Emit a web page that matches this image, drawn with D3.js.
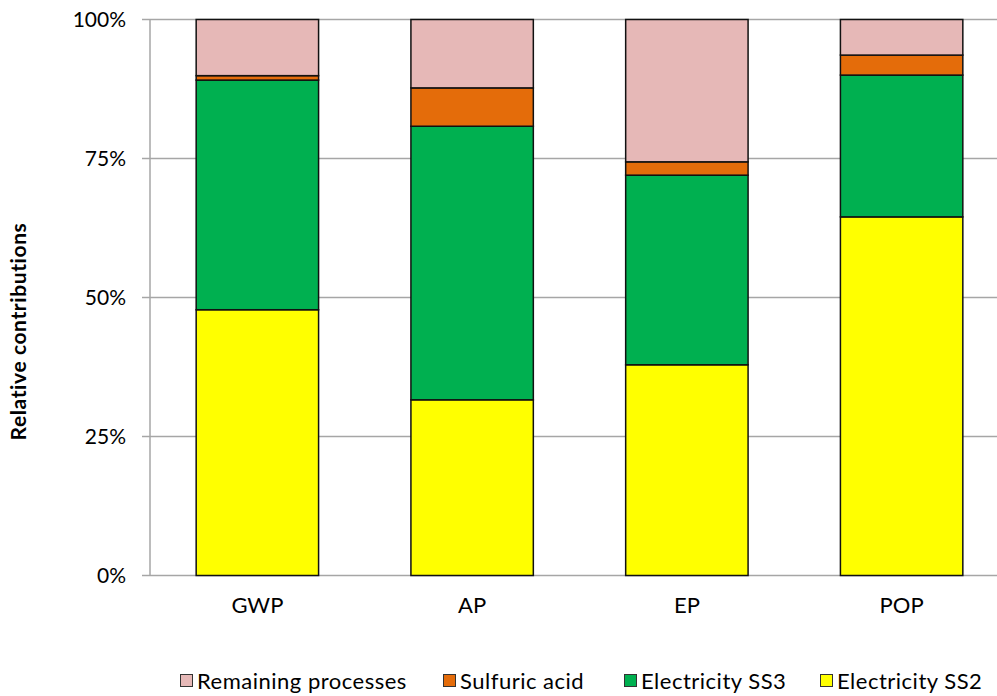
<!DOCTYPE html>
<html>
<head>
<meta charset="utf-8">
<script src="https://cdn.jsdelivr.net/npm/d3@7"></script>
<style>
  html, body { margin: 0; padding: 0; background: #fff; }
  svg { display: block; }
  text { font-family: Lato, "Open Sans", sans-serif; fill: #000; }
</style>
</head>
<body>
<svg id="chart" width="997" height="696"></svg>
<script>
// Impact categories and the share of each process (percent)
const categories = ["GWP", "AP", "EP", "POP"];
const electricitySS2 = [47.8, 31.6, 37.9, 64.5];
const electricitySS3 = [41.3, 49.2, 34.1, 25.5];
const sulfuricAcid   = [0.8, 6.9, 2.4, 3.6];
const remaining      = [10.1, 12.3, 25.6, 6.4];
const yTicks = [0, 25, 50, 75, 100];

// Stack order: bottom to top
const seriesNames = ["Electricity SS2", "Electricity SS3", "Sulfuric acid", "Remaining processes"];
const seriesValues = [electricitySS2, electricitySS3, sulfuricAcid, remaining];
const colors = ["#ffff00", "#00b050", "#e46c0a", "#e6b8b7"];

const rows = categories.map((c, i) => {
  const r = { category: c };
  seriesNames.forEach((s, k) => { r[s] = seriesValues[k][i]; });
  return r;
});

const svg = d3.select("#chart");
const margin = { left: 150, right: -12, top: 19.5, bottom: 120.5 };
const W = 997, H = 696;
const font = "Lato, 'Open Sans', sans-serif";

const x = d3.scaleBand()
  .domain(categories)
  .range([margin.left, W - margin.right])
  .paddingInner(0.43)
  .paddingOuter(0.215);

const y = d3.scaleLinear().domain([0, 100]).range([H - margin.bottom, margin.top]);

// Gridlines
svg.append("g")
  .selectAll("line")
  .data(yTicks)
  .join("line")
  .attr("x1", margin.left - 8)
  .attr("x2", W)
  .attr("y1", d => y(d))
  .attr("y2", d => y(d))
  .attr("stroke", "#a6a6a6")
  .attr("stroke-width", 1.5);

// Y axis line
svg.append("line")
  .attr("x1", margin.left).attr("x2", margin.left)
  .attr("y1", y(0)).attr("y2", y(100))
  .attr("stroke", "#a6a6a6").attr("stroke-width", 1.5);

// Y axis labels
const yAxis = d3.axisLeft(y).tickValues(yTicks).tickFormat(d => d + "%").tickSize(0).tickPadding(24);
const gy = svg.append("g").attr("transform", `translate(${margin.left},0)`).call(yAxis);
gy.select(".domain").remove();
gy.selectAll("text").attr("font-size", 21).style("font-family", font).attr("fill", "#000");

// Stacked bars
const stack = d3.stack().keys(seriesNames)(rows);
svg.append("g")
  .selectAll("g")
  .data(stack)
  .join("g")
  .attr("fill", (d, i) => colors[i])
  .selectAll("rect")
  .data(d => d)
  .join("rect")
  .attr("x", d => x(d.data.category))
  .attr("width", x.bandwidth())
  .attr("y", d => y(d[1]))
  .attr("height", d => y(d[0]) - y(d[1]))
  .attr("stroke", "#111")
  .attr("stroke-width", 1.5);

// X axis labels
const xAxis = d3.axisBottom(x).tickSize(0).tickPadding(22);
const gx = svg.append("g").attr("transform", `translate(0,${y(0)})`).call(xAxis);
gx.select(".domain").remove();
gx.selectAll("text").attr("font-size", 22).style("font-family", font).attr("fill", "#000");

// Y axis title
svg.append("text")
  .attr("transform", `translate(26,${(y(0) + y(100)) / 2 + 34}) rotate(-90)`)
  .attr("text-anchor", "middle")
  .attr("font-size", 21)
  .attr("font-weight", "bold")
  .attr("letter-spacing", 0.6)
  .text("Relative contributions");

// Legend (reverse of stack order)
const legendItems = seriesNames.map((s, i) => ({ name: s, color: colors[i] })).reverse();
const legendX = [180, 443, 624, 820];
const lg = svg.append("g").attr("transform", "translate(0,681)");
const item = lg.selectAll("g").data(legendItems).join("g")
  .attr("transform", (d, i) => `translate(${legendX[i]},0)`);
item.append("rect")
  .attr("x", 0.5).attr("y", -6.5).attr("width", 12).attr("height", 12)
  .attr("fill", d => d.color).attr("stroke", "#333").attr("stroke-width", 1);
item.append("text")
  .attr("x", 17).attr("y", 0).attr("dy", "0.35em")
  .attr("font-size", 22)
  .attr("letter-spacing", 0.5)
  .text(d => d.name);
</script>
</body>
</html>
